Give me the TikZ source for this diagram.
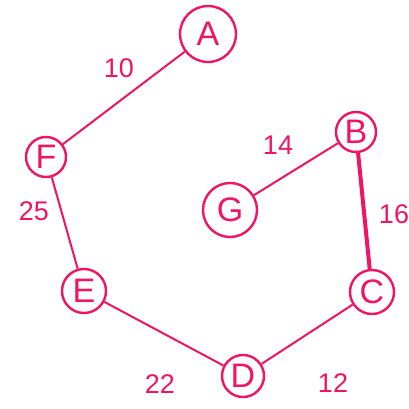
\documentclass[tikz,border=0pt]{standalone}
\usepackage{fontspec}
\setmainfont{Liberation Sans}
\definecolor{pink}{RGB}{240,20,100}
\begin{document}
\begin{tikzpicture}[x=1pt,y=-1pt,
  vert/.style={circle,draw=pink,line width=2.4pt,text=pink,inner sep=0pt,font=\fontsize{34}{34}\selectfont},
  edge/.style={draw=pink,line width=2pt},
  lbl/.style={text=pink,font=\fontsize{27}{27}\selectfont}]
\useasboundingbox (0,0) rectangle (408,409);
\node[vert,minimum size=56] (A) at (208,34) {A};
\node[vert,minimum size=40] (F) at (46,157) {F};
\node[vert,minimum size=54] (G) at (230,210) {G};
\node[vert,minimum size=40] (B) at (356,132) {B};
\node[vert,minimum size=44] (C) at (372,292) {C};
\node[vert,minimum size=44] (E) at (84,291) {E};
\node[vert,minimum size=42] (D) at (243,376) {D};
\draw[edge] (A) -- (F);
\draw[edge] (F) -- (E);
\draw[edge] (G) -- (B);
\draw[draw=pink,line width=4pt] (B) -- (C);
\draw[edge] (E) -- (D);
\draw[edge] (D) -- (C);
\node[lbl] (l10) at (119,68) {10};
\node[lbl] (l25) at (34,211) {25};
\node[lbl] (l14) at (278,145) {14};
\node[lbl] (l16) at (394,214) {16};
\node[lbl] (l22) at (160,384) {22};
\node[lbl] (l12) at (333,383) {12};
\end{tikzpicture}
\end{document}
